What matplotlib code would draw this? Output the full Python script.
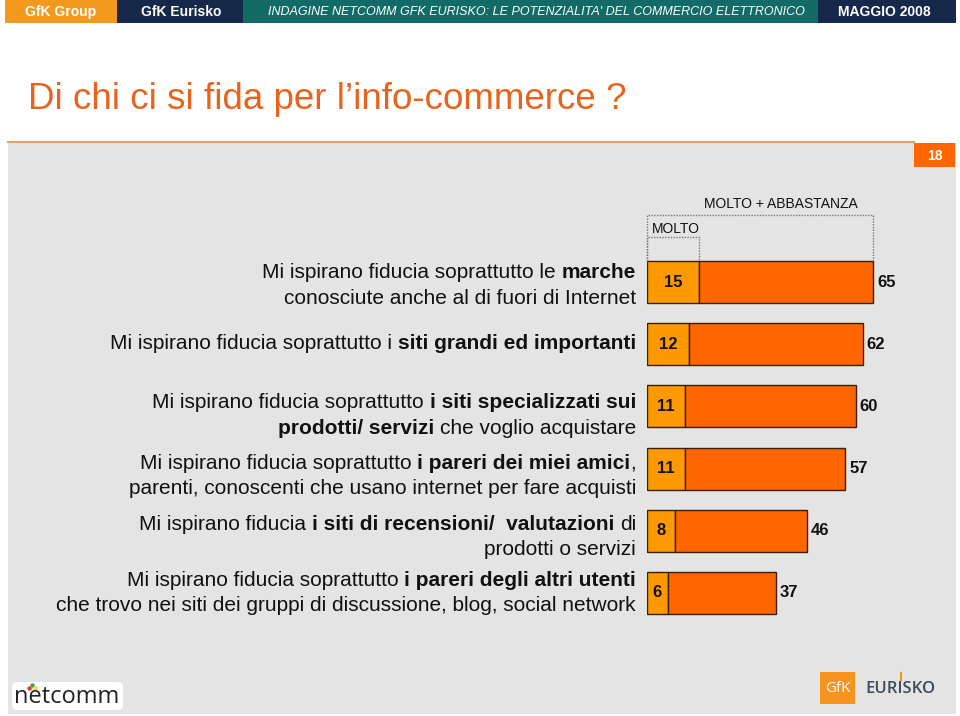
import matplotlib
matplotlib.use("Agg")
import matplotlib.pyplot as plt
from matplotlib.patches import Rectangle, FancyBboxPatch
import matplotlib.transforms as mtransforms

# ---------------- data ----------------
categories = [
    [[("Mi ispirano fiducia soprattutto le ", False), ("marche", True)],
     [("conosciute anche al di fuori di Internet", False)]],
    [[("Mi ispirano fiducia soprattutto i ", False), ("siti grandi ed importanti", True)]],
    [[("Mi ispirano fiducia soprattutto ", False), ("i siti specializzati sui", True)],
     [("prodotti/ servizi", True), (" che voglio acquistare", False)]],
    [[("Mi ispirano fiducia soprattutto ", False), ("i pareri dei miei amici", True), (",", False)],
     [("parenti, conoscenti che usano internet per fare acquisti", False)]],
    [[("Mi ispirano fiducia ", False), ("i siti di recensioni/  valutazioni", True), (" di", False)],
     [("prodotti o servizi", False)]],
    [[("Mi ispirano fiducia soprattutto ", False), ("i pareri degli altri utenti", True)],
     [("che trovo nei siti dei gruppi di discussione, blog, social network", False)]],
]
molto = [15, 12, 11, 11, 8, 6]
molto_abbastanza = [65, 62, 60, 57, 46, 37]
series_names = ["MOLTO", "MOLTO + ABBASTANZA"]
header_labels = ["GfK Group", "GfK Eurisko",
                 "INDAGINE NETCOMM GFK EURISKO: LE POTENZIALITA' DEL COMMERCIO ELETTRONICO",
                 "MAGGIO 2008"]
title = "Di chi ci si fida per l\u2019info-commerce ?"
page_number = "18"

# ---------------- style ----------------
W, H = 960, 716
FONT = ["Liberation Sans", "DejaVu Sans"]
C_MOLTO = "#FF9900"
C_ABB = "#FF6600"
C_EDGE = "#3A1E00"
C_PANEL = "#E4E4E4"
C_TITLE = "#E8641E"

plt.rcParams["font.family"] = FONT

fig = plt.figure(figsize=(W / 100, H / 100), dpi=100)
fig.patch.set_facecolor("white")

bg = fig.add_axes([0, 0, 1, 1])
bg.set_xlim(0, W)
bg.set_ylim(H, 0)
bg.axis("off")

# header bar
hdr = [(5, 117, "#F39A1E"), (117, 243, "#17294A"), (243, 818, "#136B68"), (818, 956, "#17294A")]
hdr_text_x = [61, 181, 536, 884]
for (x0, x1, c), lab, tx in zip(hdr, header_labels, hdr_text_x):
    bg.add_patch(Rectangle((x0, 0), x1 - x0, 23, color=c, lw=0))
    italic = lab.startswith("INDAGINE")
    bg.text(tx, 12, lab, color="white", ha="center", va="center",
            fontsize=9 if italic else 10, fontweight="normal" if italic else "bold",
            fontstyle="italic" if italic else "normal")

# title
bg.text(28, 109, title, color=C_TITLE, fontsize=26.5, ha="left", va="baseline")

# panel
bg.add_patch(Rectangle((8, 143), 948, 571, color=C_PANEL, lw=0))
bg.plot([8, 914], [142, 142], color="#E8A06A", lw=1.5)
bg.add_patch(Rectangle((914, 143), 41, 24, color="#FF6600", lw=0))
bg.text(934.5, 155.5, page_number, color="white", fontsize=10, fontweight="bold",
        ha="center", va="center")

# bottom logos
bg.add_patch(FancyBboxPatch((12, 682), 111, 28, boxstyle="round,pad=0,rounding_size=5",
                            fc="white", ec="none"))
bg.text(67, 697, "netcomm", fontsize=17, ha="center", va="center", color="#222222",
        family=["Open Sans", "DejaVu Sans"])
for dx, dy, c in [(29, 688, "#E53935"), (32, 685, "#43A047"), (35, 688, "#FDD835")]:
    bg.plot(dx, dy, "o", ms=2.2, color=c)
bg.add_patch(Rectangle((820, 672), 35, 32, color="#F7941D", lw=0))
bg.text(837.5, 689, "GfK", color="white", fontsize=11, ha="center", va="center",
        family=["Open Sans", "DejaVu Sans"])
bg.text(900, 689, "EURISKO", color="#3E4A5A", fontsize=12, ha="center", va="center",
        family=["Open Sans", "DejaVu Sans"], fontweight="semibold")
bg.plot([901, 901], [673, 680], color="#F7941D", lw=1.5)

# ---------------- chart axes ----------------
PX_PER_UNIT = (873 - 647) / 65.0
XMAX = 85
ax_left = 647
ax_w = XMAX * PX_PER_UNIT
ax_top, ax_bot = 251, 624
ax = fig.add_axes([ax_left / W, 1 - ax_bot / H, ax_w / W, (ax_bot - ax_top) / H])
ax.set_xlim(0, XMAX)
ax.set_ylim(len(molto) - 0.5, -0.5)
ax.axis("off")
ax.patch.set_alpha(0)

ypos = list(range(len(molto)))
bar_h = 0.675
rest = [t - m for t, m in zip(molto_abbastanza, molto)]
ax.barh(ypos, molto, height=bar_h, color=C_MOLTO, edgecolor=C_EDGE, lw=1.0)
ax.barh(ypos, rest, left=molto, height=bar_h, color=C_ABB, edgecolor=C_EDGE, lw=1.0)

for y, m, t in zip(ypos, molto, molto_abbastanza):
    ax.text(m / 2, y, str(m), ha="center", va="center", fontsize=12, fontweight="bold",
            color="#111111")
    ax.text(t + 1.2, y, str(t), ha="left", va="center", fontsize=12, fontweight="bold",
            color="#111111")

# dotted header boxes
unit_px_y = (ax_bot - ax_top) / len(molto)
def px2y(py):
    return (py - ax_top) / unit_px_y - 0.5
bar_top = -bar_h / 2
big_top = px2y(215)
small_top = px2y(237)
kw = dict(color="#777777", lw=1.0, ls=(0, (1, 1)), clip_on=False)
ax.plot([0, 0, molto_abbastanza[0], molto_abbastanza[0]],
        [bar_top, big_top, big_top, bar_top], **kw)
ax.plot([0, 0, molto[0], molto[0]], [bar_top, small_top, small_top, bar_top], **kw)
ax.text(molto_abbastanza[0] / 2 + 6, px2y(204), series_names[1], ha="center", va="center",
        fontsize=10, color="#111111")
ax.text(1.5, px2y(229), series_names[0], ha="left", va="center", fontsize=10,
        color="#111111")

# ---------------- category labels ----------------
LBL_FS = 15
LINE_PX = 25.5
label_shift_px = [3.5, -1, 9, 7.5, 6, 0]
trans = mtransforms.blended_transform_factory(fig.transFigure, ax.transData)
label_x = 636 / W


def draw_line(segments, y):
    prev = None
    pending_gap = 0.0
    for text, bold in reversed(segments):
        lead = len(text) - len(text.lstrip(" "))
        trail = len(text) - len(text.rstrip(" "))
        gap = pending_gap + trail * 0.278 * LBL_FS
        s = text.strip(" ")
        w = "bold" if bold else "normal"
        if prev is None:
            prev = ax.text(label_x, y, s, transform=trans, ha="right", va="center",
                           fontsize=LBL_FS, fontweight=w, color="#111111")
        else:
            prev = ax.annotate(s, xy=(0, 0.5), xycoords=prev, xytext=(-gap, 0),
                               textcoords="offset points", ha="right", va="center",
                               fontsize=LBL_FS, fontweight=w, color="#111111",
                               annotation_clip=False)
        pending_gap = lead * 0.278 * LBL_FS


for i, lines in enumerate(categories):
    n = len(lines)
    center = i + label_shift_px[i] / unit_px_y
    for k, segs in enumerate(lines):
        off = (k - (n - 1) / 2) * LINE_PX / unit_px_y
        draw_line(segs, center + off)

fig.savefig("out.png", dpi=100, facecolor="white")
